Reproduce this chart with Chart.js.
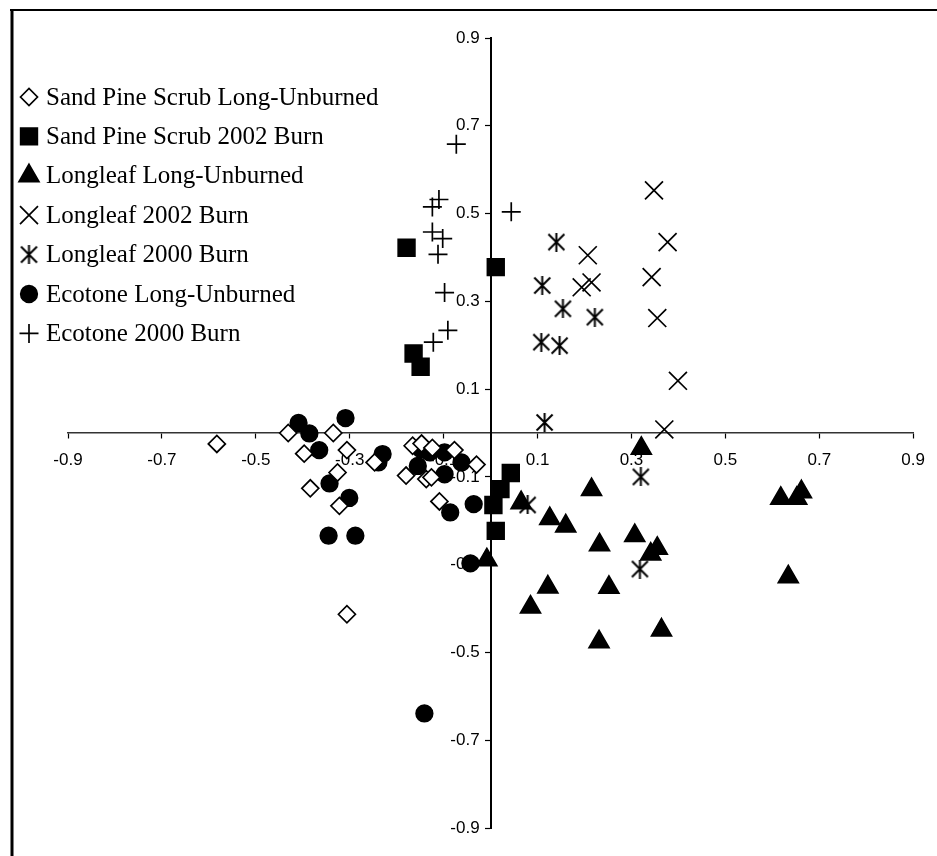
<!DOCTYPE html>
<html>
<head>
<meta charset="utf-8">
<script src="https://cdn.jsdelivr.net/npm/chart.js@4.4.1/dist/chart.umd.min.js"></script>
<style>
  body { margin: 0; background: #fff; }
  #wrap { position: relative; width: 937px; height: 856px; }
</style>
</head>
<body>
<div id="wrap"><canvas id="ordChart"></canvas></div>
<script>
// axis ticks (both axes use the same set)
const tickValues = [-0.9, -0.7, -0.5, -0.3, -0.1, 0.1, 0.3, 0.5, 0.7, 0.9];
const tickLabels = ["-0.9", "-0.7", "-0.5", "-0.3", "-0.1", "0.1", "0.3", "0.5", "0.7", "0.9"];

const seriesNames = [
  "Sand Pine Scrub Long-Unburned",
  "Sand Pine Scrub 2002 Burn",
  "Longleaf Long-Unburned",
  "Longleaf 2002 Burn",
  "Longleaf 2000 Burn",
  "Ecotone Long-Unburned",
  "Ecotone 2000 Burn"
];

// ordination scores
const spsUnburnedX = [-0.583, -0.431, -0.335, -0.397, -0.306, -0.326, -0.384, -0.322, -0.247, -0.166, -0.147, -0.124, -0.077, -0.030, -0.180, -0.137, -0.126, -0.109, -0.306];
const spsUnburnedY = [-0.025, 0.000, 0.000, -0.047, -0.039, -0.090, -0.126, -0.166, -0.067, -0.029, -0.024, -0.034, -0.039, -0.072, -0.097, -0.105, -0.101, -0.156, -0.413];

const sps2002X = [-0.179, 0.011, -0.164, -0.149, 0.043, 0.021, 0.006, 0.011];
const sps2002Y = [0.422, 0.378, 0.181, 0.151, -0.091, -0.128, -0.164, -0.223];

const llUnburnedX = [0.321, 0.215, 0.065, 0.126, 0.160, 0.307, 0.232, 0.355, 0.341, 0.122, 0.252, 0.085, 0.231, 0.364, 0.618, 0.652, 0.662, 0.634, -0.008];
const llUnburnedY = [-0.035, -0.129, -0.159, -0.195, -0.212, -0.234, -0.255, -0.263, -0.276, -0.351, -0.352, -0.397, -0.476, -0.449, -0.149, -0.149, -0.134, -0.328, -0.289];

const ll2002X = [0.348, 0.377, 0.207, 0.343, 0.194, 0.215, 0.355, 0.399, 0.370];
const ll2002Y = [0.553, 0.435, 0.405, 0.355, 0.332, 0.343, 0.262, 0.119, 0.008];

const ll2000X = [0.140, 0.110, 0.154, 0.222, 0.108, 0.147, 0.115, 0.079, 0.320, 0.318];
const ll2000Y = [0.435, 0.336, 0.283, 0.264, 0.207, 0.199, 0.024, -0.164, -0.100, -0.310];

const ecoUnburnedX = [-0.409, -0.386, -0.309, -0.365, -0.230, -0.239, -0.148, -0.130, -0.098, -0.155, -0.062, -0.098, -0.343, -0.301, -0.086, -0.036, -0.345, -0.288, -0.043, -0.141];
const ecoUnburnedY = [0.023, -0.001, 0.034, -0.039, -0.048, -0.067, -0.037, -0.044, -0.044, -0.075, -0.067, -0.094, -0.115, -0.148, -0.181, -0.162, -0.234, -0.234, -0.297, -0.639];

const eco2000X = [-0.073, -0.110, -0.124, -0.124, -0.102, -0.112, -0.098, -0.091, -0.122, 0.044];
const eco2000Y = [0.658, 0.532, 0.515, 0.458, 0.443, 0.407, 0.320, 0.234, 0.207, 0.504];

function pts(xs, ys) {
  return xs.map(function (x, i) { return { x: x, y: ys[i] }; });
}

// six-armed asterisk like the original marker
function makeAsterisk(size) {
  const c = document.createElement('canvas');
  c.width = size; c.height = size;
  const g = c.getContext('2d');
  g.strokeStyle = '#000';
  g.lineWidth = 2;
  const m = 1.5;
  g.beginPath();
  g.moveTo(m, m); g.lineTo(size - m, size - m);
  g.moveTo(size - m, m); g.lineTo(m, size - m);
  g.moveTo(size / 2, 0); g.lineTo(size / 2, size);
  g.stroke();
  return c;
}
const asterisk = makeAsterisk(19);

function series(i, data, style, radius, fill) {
  return {
    label: seriesNames[i],
    data: data,
    pointStyle: style,
    pointRadius: radius,
    pointHoverRadius: radius,
    backgroundColor: fill,
    borderColor: '#000',
    borderWidth: 1.7
  };
}

const frameAndLegend = {
  id: 'frameAndLegend',
  beforeDraw(chart) {
    const ctx = chart.ctx;
    ctx.save();
    ctx.fillStyle = '#fff';
    ctx.fillRect(0, 0, chart.width, chart.height);
    ctx.strokeStyle = '#000';
    ctx.lineWidth = 3;
    ctx.beginPath();
    ctx.moveTo(12, 9); ctx.lineTo(12, chart.height);
    ctx.stroke();
    ctx.lineWidth = 2;
    ctx.beginPath();
    ctx.moveTo(10, 10); ctx.lineTo(chart.width, 10);
    ctx.stroke();
    ctx.restore();

    // the y labels sit flush on a centred axis; push them left of the tick marks
    const items = chart.scales.y.getLabelItems(chart.chartArea);
    if (!items._shifted) {
      items.forEach(function (it) { it.options.translation[0] -= 11; });
      items._shifted = true;
    }
  },
  afterDraw(chart) {
    const ctx = chart.ctx;
    ctx.save();
    chart.data.datasets.forEach(function (ds, i) {
      const y = 97 + i * 39.4;
      ctx.fillStyle = ds.backgroundColor;
      ctx.strokeStyle = ds.borderColor;
      ctx.lineWidth = ds.borderWidth;
      Chart.helpers.drawPoint(ctx, {
        pointStyle: ds.pointStyle, radius: ds.pointRadius, rotation: 0, borderWidth: ds.borderWidth
      }, 29, y);
      ctx.fillStyle = '#000';
      ctx.font = '25px "Liberation Serif", "Times New Roman", serif';
      ctx.textBaseline = 'middle';
      ctx.textAlign = 'left';
      ctx.fillText(ds.label, 46, y + 1);
    });
    ctx.restore();
  }
};

const tickFont = { family: '"Liberation Sans", Arial, sans-serif', size: 17 };

new Chart(document.getElementById('ordChart'), {
  type: 'scatter',
  data: {
    datasets: [
      series(0, pts(spsUnburnedX, spsUnburnedY), 'rectRot', 8.5, '#fff'),
      series(1, pts(sps2002X, sps2002Y), 'rect', 11.8, '#000'),
      series(2, pts(llUnburnedX, llUnburnedY), 'triangle', 11.5, '#000'),
      series(3, pts(ll2002X, ll2002Y), 'crossRot', 12.7, '#000'),
      series(4, pts(ll2000X, ll2000Y), asterisk, 9.5, '#000'),
      series(5, pts(ecoUnburnedX, ecoUnburnedY), 'circle', 8.3, '#000'),
      series(6, pts(eco2000X, eco2000Y), 'cross', 9.5, '#000')
    ]
  },
  options: {
    responsive: true,
    maintainAspectRatio: false,
    animation: false,
    layout: { padding: { left: 68, right: 22, top: 38, bottom: 28 } },
    plugins: {
      legend: { display: false },
      tooltip: { enabled: false }
    },
    scales: {
      x: {
        type: 'linear',
        min: -0.9,
        max: 0.9,
        position: { y: 0 },
        afterBuildTicks: function (s) { s.ticks = tickValues.map(function (v) { return { value: v }; }); },
        ticks: {
          autoSkip: false,
          maxRotation: 0,
          padding: 12,
          color: '#000',
          font: tickFont,
          callback: function (v, i) { return tickLabels[i]; }
        },
        grid: { drawOnChartArea: false, tickLength: 5, tickColor: '#000', tickWidth: 1.2 },
        border: { color: '#333', width: 1.5 }
      },
      y: {
        type: 'linear',
        min: -0.9,
        max: 0.9,
        position: { x: 0 },
        afterBuildTicks: function (s) { s.ticks = tickValues.map(function (v) { return { value: v }; }); },
        ticks: {
          autoSkip: false,
          padding: 8,
          color: '#000',
          font: tickFont,
          callback: function (v, i) { return tickLabels[i]; }
        },
        grid: { drawOnChartArea: false, tickLength: 5, tickColor: '#000', tickWidth: 1.2 },
        border: { color: '#000', width: 2 }
      }
    }
  },
  plugins: [frameAndLegend]
});
</script>
</body>
</html>
